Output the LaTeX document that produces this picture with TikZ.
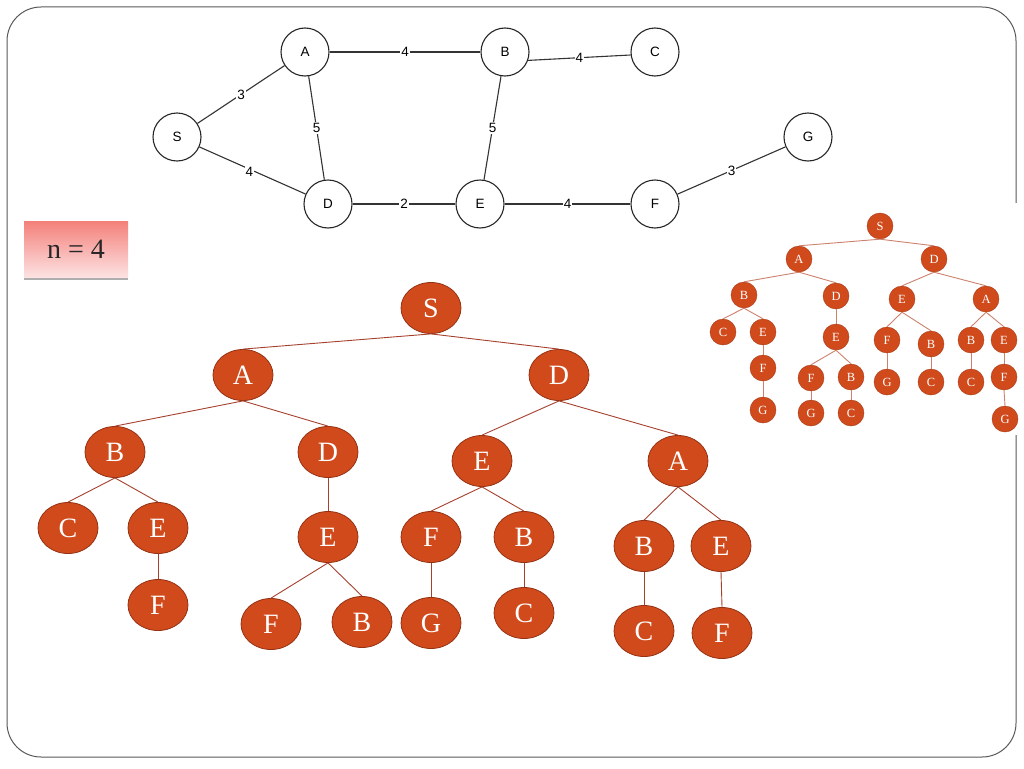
\documentclass[tikz,border=0pt]{standalone}
\usepackage{fontspec}
\setmainfont{Liberation Serif}
\setsansfont{Liberation Sans}
\usetikzlibrary{shadows,shapes.geometric}
\definecolor{framecol}{RGB}{90,90,90}
\definecolor{bfill}{RGB}{208,74,28}
\definecolor{bborder}{RGB}{150,50,20}
\definecolor{bedgecol}{RGB}{165,65,45}
\definecolor{sedgecol}{RGB}{205,130,110}
\definecolor{boxtop}{RGB}{244,128,122}
\definecolor{boxbot}{RGB}{252,226,226}
\tikzset{
  gnode/.style={circle, draw=black!85, line width=1.1pt, minimum size=48pt, inner sep=0pt, fill=white, font=\sffamily\fontsize{13.5}{13.5}\selectfont},
  glab/.style={fill=white, inner sep=1pt, font=\sffamily\fontsize{13.5}{13.5}\selectfont},
  gedge/.style={draw=black!80, line width=1.1pt},
  bnode/.style={ellipse, draw=bborder, line width=0.8pt, fill=bfill, minimum width=60pt, minimum height=51pt, inner sep=0pt, text=white, font=\fontsize{28}{28}\selectfont},
  bedge/.style={draw=bedgecol, line width=0.9pt},
  snode/.style={circle, draw=bborder!70!bfill, line width=0.4pt, fill=bfill, minimum size=26pt, inner sep=0pt, text=white, font=\fontsize{12.5}{12.5}\selectfont},
  sedge/.style={draw=sedgecol, line width=0.9pt},
  nbox/.style={rectangle, top color=boxtop, bottom color=boxbot, minimum width=104pt, minimum height=56pt, inner sep=0pt, text=black!85, font=\fontsize{28}{28}\selectfont, drop shadow={shadow xshift=0pt, shadow yshift=-3pt, fill=black!45, opacity=0.7}}
}
\begin{document}
\begin{tikzpicture}[x=1pt,y=-1pt]
\useasboundingbox (0,0) rectangle (1024,768);
\fill[white] (0,0) rectangle (1024,768);
\draw[framecol, line width=1pt, rounded corners=34pt] (7,7) rectangle (1016,757);
\fill[white] (1010,203) rectangle (1022,435);

% top graph
\node[gnode] (S) at (177,137) {S};
\node[gnode] (A) at (305,52) {A};
\node[gnode] (B) at (505,52) {B};
\node[gnode] (C) at (655,52) {C};
\node[gnode] (G) at (808,137) {G};
\node[gnode] (D) at (328,204) {D};
\node[gnode] (E) at (480,204) {E};
\node[gnode] (F) at (655,204) {F};
\draw[gedge] (S) -- node[glab] {3} (A);
\draw[gedge] (A) -- node[glab] {4} (B);
\draw[gedge] (B.-20) -- node[glab] {4} (C.187);
\draw[gedge] (A) -- node[glab] {5} (D);
\draw[gedge] (B) -- node[glab] {5} (E);
\draw[gedge] (S) -- node[glab, pos=0.47, yshift=-3pt] {4} (D);
\draw[gedge] (D) -- node[glab] {2} (E);
\draw[gedge] (E) -- node[glab] {4} (F);
\draw[gedge] (F) -- node[glab] {3} (G);

% n = 4 box
\node[nbox] (nb) at (76,249) {n\hspace{7pt}=\hspace{7pt}4\hspace{10pt}};

% big tree
\node[bnode] (bS) at (431,308) {S};
\node[bnode] (bA) at (243,375) {A};
\node[bnode] (bD) at (559,375) {D};
\node[bnode] (bAB) at (115,452) {B};
\node[bnode] (bAD) at (328,452) {D};
\node[bnode] (bABC) at (68,528) {C};
\node[bnode] (bABE) at (158,528) {E};
\node[bnode] (bABEF) at (158,605) {F};
\node[bnode] (bADE) at (328,537) {E};
\node[bnode] (bADEF) at (271,624) {F};
\node[bnode] (bADEB) at (362,622) {B};
\node[bnode] (bDE) at (482,461) {E};
\node[bnode] (bDA) at (678,461) {A};
\node[bnode] (bDEF) at (431,537) {F};
\node[bnode] (bDEB) at (524,537) {B};
\node[bnode] (bDEFG) at (431,623) {G};
\node[bnode] (bDEBC) at (524,613) {C};
\node[bnode] (bDAB) at (644,546) {B};
\node[bnode] (bDAE) at (721,546) {E};
\node[bnode] (bDABC) at (644,631) {C};
\node[bnode] (bDAEF) at (722,633) {F};
\foreach \p/\c in {bS/bA, bS/bD, bA/bAB, bA/bAD, bAB/bABC, bAB/bABE, bABE/bABEF, bAD/bADE, bADE/bADEF, bADE/bADEB, bD/bDE, bD/bDA, bDE/bDEF, bDE/bDEB, bDEF/bDEFG, bDEB/bDEBC, bDA/bDAB, bDA/bDAE, bDAB/bDABC, bDAE/bDAEF}
  \draw[bedge] (\p.south) -- (\c.north);

% small tree
\node[snode] (sS) at (880,226) {S};
\node[snode] (sA) at (799,259) {A};
\node[snode] (sD) at (934,259) {D};
\node[snode] (sAB) at (744,295) {B};
\node[snode] (sAD) at (836,296) {D};
\node[snode] (sABC) at (723,332) {C};
\node[snode] (sABE) at (763,332) {E};
\node[snode] (sABEF) at (763,368) {F};
\node[snode] (sABEFG) at (763,410) {G};
\node[snode] (sADE) at (836,337) {E};
\node[snode] (sADEF) at (811,378) {F};
\node[snode] (sADEB) at (851,377) {B};
\node[snode] (sADEFG) at (811,413) {G};
\node[snode] (sADEBC) at (851,413) {C};
\node[snode] (sDE) at (902,299) {E};
\node[snode] (sDA) at (986,299) {A};
\node[snode] (sDEF) at (887,340) {F};
\node[snode] (sDEB) at (931,344) {B};
\node[snode] (sDEFG) at (887,382) {G};
\node[snode] (sDEBC) at (931,382) {C};
\node[snode] (sDAB) at (971,340) {B};
\node[snode] (sDAE) at (1004,340) {E};
\node[snode] (sDABC) at (971,382) {C};
\node[snode] (sDAEF) at (1004,377) {F};
\node[snode] (sDAEFG) at (1005,419) {G};
\foreach \p/\c in {sS/sA, sS/sD, sA/sAB, sA/sAD, sAB/sABC, sAB/sABE, sABE/sABEF, sABEF/sABEFG, sAD/sADE, sADE/sADEF, sADE/sADEB, sADEF/sADEFG, sADEB/sADEBC, sD/sDE, sD/sDA, sDE/sDEF, sDE/sDEB, sDEF/sDEFG, sDEB/sDEBC, sDA/sDAB, sDA/sDAE, sDAB/sDABC, sDAE/sDAEF, sDAEF/sDAEFG}
  \draw[sedge] (\p.south) -- (\c.north);
\end{tikzpicture}
\end{document}
